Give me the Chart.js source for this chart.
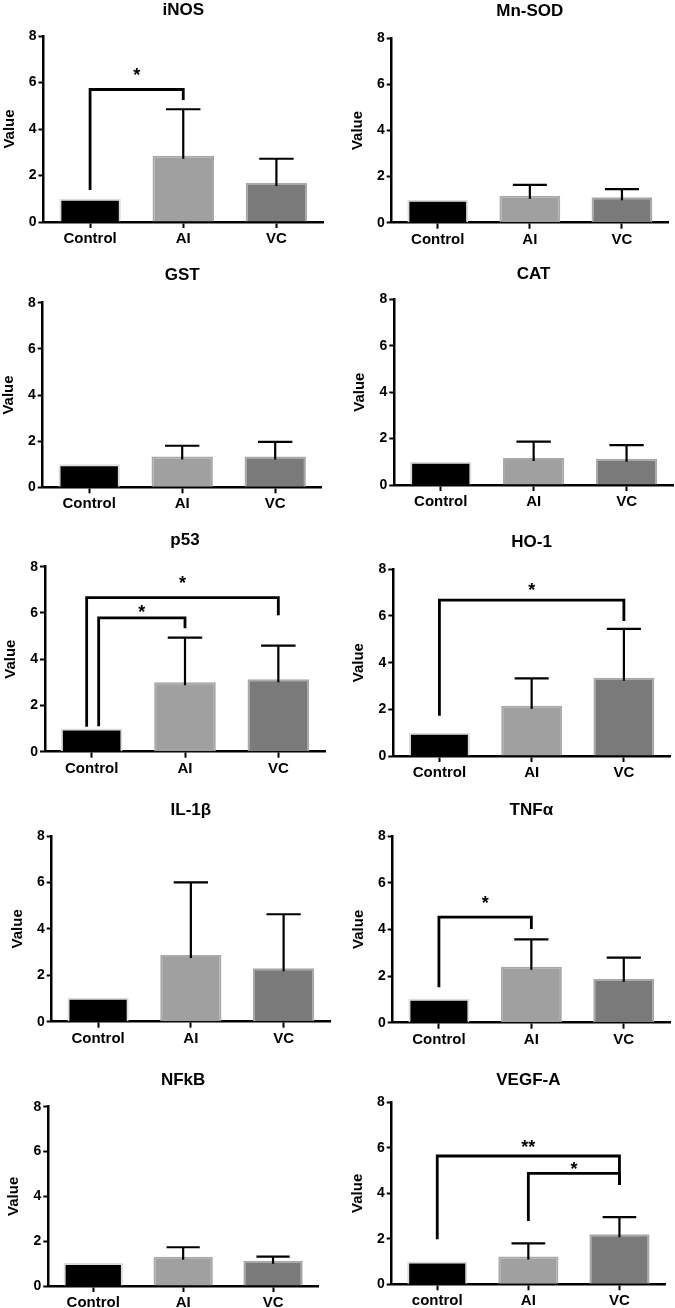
<!DOCTYPE html>
<html>
<head>
    <meta charset="UTF-8">
    <title>Gene expression panels</title>
    <script src="https://cdn.jsdelivr.net/npm/chart.js"></script>
    <style>
        html, body {
            margin: 0;
            padding: 0;
            background: #fff;
            width: 675px;
            height: 1308px;
            overflow: hidden;
            position: relative;
        }
        .panel {
            position: absolute;
        }
    </style>
</head>
<body>
<div id="panels"></div>
<script>
    // ---- data ----
    const GROUPS = ['Control', 'AI', 'VC'];
    const GROUPS_VEGF = ['control', 'AI', 'VC'];
    const TITLES = ['iNOS', 'Mn-SOD', 'GST', 'CAT', 'p53', 'HO-1', 'IL-1β', 'TNFα', 'NFkB', 'VEGF-A'];
    const Y_TICKS = [0, 2, 4, 6, 8];

    const INOS_MEAN = [1.0, 2.85, 1.68];
    const INOS_SD = [0, 2.0, 1.04];
    const MNSOD_MEAN = [1.0, 1.17, 1.1];
    const MNSOD_SD = [0, 0.47, 0.36];
    const GST_MEAN = [1.0, 1.33, 1.33];
    const GST_SD = [0, 0.47, 0.64];
    const CAT_MEAN = [1.0, 1.16, 1.13];
    const CAT_SD = [0, 0.71, 0.59];
    const P53_MEAN = [1.0, 3.0, 3.13];
    const P53_SD = [0, 1.93, 1.46];
    const HO1_MEAN = [1.0, 2.15, 3.35];
    const HO1_SD = [0, 1.18, 2.1];
    const IL1B_MEAN = [1.03, 2.87, 2.3];
    const IL1B_SD = [0, 3.13, 2.33];
    const TNFA_MEAN = [1.03, 2.4, 1.88];
    const TNFA_SD = [0, 1.17, 0.91];
    const NFKB_MEAN = [1.03, 1.31, 1.13];
    const NFKB_SD = [0, 0.42, 0.18];
    const VEGFA_MEAN = [1.0, 1.22, 2.2];
    const VEGFA_SD = [0, 0.58, 0.75];

    // significance brackets: groups joined, bar height, feet, star label and its height
    const INOS_SIG = [{from: 0, to: 1, at: 5.7, footL: 1.38, footR: 5.25, label: '*', labelAt: 6.49}];
    const P53_SIG = [
        {from: 0, to: 2, at: 6.66, footL: 1.08, footR: 5.9, label: '*', labelAt: 7.43},
        {from: 0, to: 1, at: 5.79, footL: 1.1, footR: 5.34, label: '*', labelAt: 6.18}
    ];
    const HO1_SIG = [{from: 0, to: 2, at: 6.68, footL: 1.72, footR: 5.79, label: '*', labelAt: 7.27}];
    const TNFA_SIG = [{from: 0, to: 1, at: 4.52, footL: 1.52, footR: 4.02, label: '*', labelAt: 5.27}];
    const VEGFA_SIG = [
        {from: 0, to: 2, at: 5.64, footL: 1.98, footR: 4.36, label: '**', labelAt: 6.17},
        {from: 1, to: 2, at: 4.88, footL: 2.78, footR: 4.36, label: '*', labelAt: 5.24}
    ];

    const PANELS = [
        {labels: GROUPS, mean: INOS_MEAN, sd: INOS_SD, sig: INOS_SIG},
        {labels: GROUPS, mean: MNSOD_MEAN, sd: MNSOD_SD, sig: []},
        {labels: GROUPS, mean: GST_MEAN, sd: GST_SD, sig: []},
        {labels: GROUPS, mean: CAT_MEAN, sd: CAT_SD, sig: []},
        {labels: GROUPS, mean: P53_MEAN, sd: P53_SD, sig: P53_SIG},
        {labels: GROUPS, mean: HO1_MEAN, sd: HO1_SD, sig: HO1_SIG},
        {labels: GROUPS, mean: IL1B_MEAN, sd: IL1B_SD, sig: []},
        {labels: GROUPS, mean: TNFA_MEAN, sd: TNFA_SD, sig: TNFA_SIG},
        {labels: GROUPS, mean: NFKB_MEAN, sd: NFKB_SD, sig: []},
        {labels: GROUPS_VEGF, mean: VEGFA_MEAN, sd: VEGFA_SD, sig: VEGFA_SIG}
    ];

    // ---- layout (page pixels) ----
    const GEOM = [
        {axisX: 43.5, y8: 36, y0: 222, xEnd: 323, titleY: 10},
        {axisX: 391.7, y8: 38.3, y0: 222.7, xEnd: 668, titleY: 11.7},
        {axisX: 42.7, y8: 302.7, y0: 487.3, xEnd: 321.7, titleY: 275.8},
        {axisX: 394.3, y8: 299.3, y0: 485, xEnd: 673, titleY: 274},
        {axisX: 45, y8: 566.7, y0: 751.7, xEnd: 325, titleY: 540.8},
        {axisX: 393.3, y8: 569.3, y0: 756, xEnd: 670, titleY: 542.5},
        {axisX: 51.7, y8: 836, y0: 1021.7, xEnd: 330, titleY: 810.8},
        {axisX: 392.7, y8: 836, y0: 1022.7, xEnd: 670, titleY: 810.8},
        {axisX: 48.3, y8: 1106.7, y0: 1286, xEnd: 318, titleY: 1080},
        {axisX: 391.7, y8: 1102.3, y0: 1284.3, xEnd: 665, titleY: 1080}
    ];
    const LEG_SHIFT = {4: [-5, 7]};   // p53: the two left feet sit side by side
    const ROW_TOPS = [0, 255, 520, 785, 1048];
    const COL_LEFTS = [-10, 330];
    const BOX_W = 345, BOX_H = 275;
    const YW = 43, XH = 30;
    const TITLE_SIZE = 17;

    const FONT = '"Liberation Sans", Arial, sans-serif';
    const BAR_FILL = ['#000000', '#a0a0a0', '#7a7a7a'];
    const BAR_EDGE = ['#dcdcdc', '#a9a9a9', '#a8a8a8'];

    Chart.defaults.font.family = FONT;
    Chart.defaults.color = '#000';

    const errBars = {
        id: 'errbars',
        afterDatasetsDraw(chart, args, opts) {
            const ctx = chart.ctx, y = chart.scales.y;
            const meta = chart.getDatasetMeta(0);
            const vals = chart.data.datasets[0].data;
            ctx.save();
            ctx.strokeStyle = '#000';
            ctx.lineWidth = 2.2;
            meta.data.forEach((bar, i) => {
                const sd = opts.sd[i];
                if (!sd) return;
                const top = y.getPixelForValue(vals[i] + sd);
                const half = bar.width * 0.28;
                ctx.beginPath();
                ctx.moveTo(bar.x, bar.y + 3);
                ctx.lineTo(bar.x, top);
                ctx.moveTo(bar.x - half, top);
                ctx.lineTo(bar.x + half, top);
                ctx.stroke();
            });
            ctx.restore();
        }
    };

    const brackets = {
        id: 'brackets',
        afterDatasetsDraw(chart, args, opts) {
            const items = opts.items || [];
            if (!items.length) return;
            const ctx = chart.ctx, y = chart.scales.y;
            const meta = chart.getDatasetMeta(0);
            ctx.save();
            ctx.strokeStyle = '#000';
            ctx.fillStyle = '#000';
            ctx.lineWidth = 2.8;
            ctx.font = 'bold 18px ' + FONT;
            ctx.textAlign = 'center';
            ctx.textBaseline = 'alphabetic';
            items.forEach((b, k) => {
                const shift = opts.shift ? opts.shift[k] : 0;
                const x1 = meta.data[b.from].x + shift;
                const x2 = meta.data[b.to].x;
                const yh = y.getPixelForValue(b.at);
                ctx.beginPath();
                ctx.moveTo(x1, y.getPixelForValue(b.footL));
                ctx.lineTo(x1, yh);
                ctx.lineTo(x2, yh);
                ctx.lineTo(x2, y.getPixelForValue(b.footR));
                ctx.stroke();
                const m = ctx.measureText(b.label);
                const target = y.getPixelForValue(b.labelAt);
                const base = target + (m.actualBoundingBoxAscent - m.actualBoundingBoxDescent) / 2;
                ctx.fillText(b.label, (x1 + x2) / 2, base);
            });
            ctx.restore();
        }
    };

    const holder = document.getElementById('panels');

    PANELS.forEach((p, i) => {
        const g = GEOM[i];
        const col = i % 2, row = Math.floor(i / 2);
        const left = COL_LEFTS[col], top = ROW_TOPS[row];

        const div = document.createElement('div');
        div.className = 'panel';
        div.style.left = left + 'px';
        div.style.top = top + 'px';
        div.style.width = BOX_W + 'px';
        div.style.height = BOX_H + 'px';
        const canvas = document.createElement('canvas');
        div.appendChild(canvas);
        holder.appendChild(div);

        const half = TITLE_SIZE * 1.2 / 2;

        new Chart(canvas, {
            type: 'bar',
            data: {
                labels: p.labels,
                datasets: [{
                    data: p.mean,
                    backgroundColor: BAR_FILL,
                    borderColor: BAR_EDGE,
                    borderWidth: 2,
                    categoryPercentage: 1,
                    barPercentage: 0.66
                }]
            },
            options: {
                responsive: true,
                maintainAspectRatio: false,
                animation: false,
                layout: {
                    padding: {
                        left: g.axisX - left - YW,
                        right: left + BOX_W - g.xEnd,
                        top: g.titleY - top - half,
                        bottom: top + BOX_H - g.y0 - XH
                    }
                },
                plugins: {
                    legend: {display: false},
                    tooltip: {enabled: false},
                    title: {
                        display: true,
                        text: TITLES[i],
                        fullSize: false,
                        color: '#000',
                        font: {size: TITLE_SIZE, weight: 'bold'},
                        padding: {top: 0, bottom: g.y8 - g.titleY - half}
                    },
                    errbars: {sd: p.sd},
                    brackets: {items: p.sig, shift: LEG_SHIFT[i]}
                },
                scales: {
                    x: {
                        afterFit(s) { s.height = XH; },
                        grid: {
                            offset: false,
                            drawOnChartArea: false,
                            drawTicks: true,
                            tickLength: 6,
                            tickWidth: 2,
                            tickColor: '#000'
                        },
                        border: {display: true, color: '#000', width: 2.5},
                        ticks: {
                            color: '#000',
                            padding: 2,
                            maxRotation: 0,
                            font: {size: 15, weight: 'bold'}
                        }
                    },
                    y: {
                        min: 0,
                        max: 8,
                        afterFit(s) { s.width = YW; },
                        afterBuildTicks(s) { s.ticks = Y_TICKS.map(v => ({value: v})); },
                        grid: {
                            drawOnChartArea: false,
                            drawTicks: true,
                            tickLength: 5,
                            tickWidth: 2,
                            tickColor: '#000'
                        },
                        border: {display: true, color: '#000', width: 2.5},
                        ticks: {
                            color: '#000',
                            padding: 2,
                            font: {size: 14, weight: 'bold'}
                        },
                        title: {
                            display: true,
                            text: 'Value',
                            color: '#000',
                            padding: 0,
                            font: {size: 15, weight: 'bold'}
                        }
                    }
                }
            },
            plugins: [errBars, brackets]
        });
    });
</script>
</body>
</html>
